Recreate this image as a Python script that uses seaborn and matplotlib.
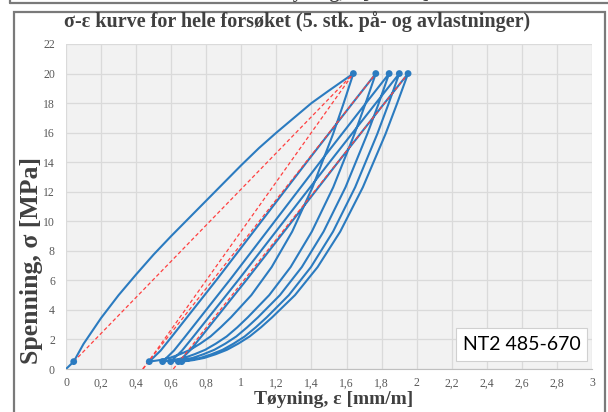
import matplotlib
matplotlib.use("Agg")
import numpy as np
import pandas as pd
import matplotlib.pyplot as plt
from matplotlib.patches import Rectangle
from matplotlib.lines import Line2D
import seaborn as sns

# Hele forsøket som en sammenhengende kurve: pålasting, avlastning, pålasting ...
toyning = [
    # første pålasting
    0, 0.044, 0.1, 0.2, 0.3, 0.4, 0.5, 0.6, 0.7, 0.8, 0.9, 1.0, 1.1, 1.2, 1.3, 1.4, 1.5, 1.639,
    # avlastning 1
    1.581, 1.523, 1.406, 1.290, 1.173, 1.057, 0.941, 0.882, 0.824, 0.766, 0.708, 0.650, 0.591, 0.533, 0.475,
    # pålasting 2
    0.540, 0.604, 0.863, 1.121, 1.379, 1.638, 1.767,
    # avlastning 2
    1.706, 1.645, 1.524, 1.402, 1.281, 1.159, 1.037, 0.977, 0.916, 0.855, 0.794, 0.733, 0.673, 0.612, 0.551,
    # pålasting 3
    0.616, 0.680, 0.939, 1.197, 1.455, 1.714, 1.843,
    # avlastning 3
    1.781, 1.718, 1.594, 1.469, 1.345, 1.220, 1.095, 1.033, 0.971, 0.909, 0.846, 0.784, 0.722, 0.659, 0.597,
    # pålasting 4
    0.662, 0.727, 0.988, 1.249, 1.510, 1.771, 1.901,
    # avlastning 4
    1.838, 1.775, 1.649, 1.523, 1.397, 1.271, 1.145, 1.082, 1.019, 0.956, 0.893, 0.830, 0.767, 0.704, 0.641,
    # pålasting 5
    0.707, 0.772, 1.034, 1.296, 1.558, 1.820, 1.951,
    # avlastning 5
    1.886, 1.822, 1.693, 1.564, 1.435, 1.306, 1.176, 1.112, 1.047, 0.983, 0.918, 0.854, 0.789, 0.725, 0.660,
]
spenning = [
    0, 0.5, 1.7, 3.45, 5.0, 6.4, 7.75, 9.0, 10.2, 11.4, 12.6, 13.8, 14.95, 16.0, 17.0, 18.0, 18.85, 20,
    17.9, 15.9, 12.3, 9.3, 6.9, 5.0, 3.5, 2.82, 2.2, 1.72, 1.3, 1.0, 0.75, 0.6, 0.5,
    1.25, 2.2, 6.1, 10.1, 14.1, 18.05, 20,
    17.9, 15.9, 12.3, 9.3, 6.9, 5.0, 3.5, 2.82, 2.2, 1.72, 1.3, 1.0, 0.75, 0.6, 0.5,
    1.25, 2.2, 6.1, 10.1, 14.1, 18.05, 20,
    17.9, 15.9, 12.3, 9.3, 6.9, 5.0, 3.5, 2.82, 2.2, 1.72, 1.3, 1.0, 0.75, 0.6, 0.5,
    1.25, 2.2, 6.1, 10.1, 14.1, 18.05, 20,
    17.9, 15.9, 12.3, 9.3, 6.9, 5.0, 3.5, 2.82, 2.2, 1.72, 1.3, 1.0, 0.75, 0.6, 0.5,
    1.25, 2.2, 6.1, 10.1, 14.1, 18.05, 20,
    17.9, 15.9, 12.3, 9.3, 6.9, 5.0, 3.5, 2.82, 2.2, 1.72, 1.3, 1.0, 0.75, 0.6, 0.5,
]

# markerte punkter (0,5 MPa og 20 MPa)
punkt_x = [0.044, 1.639, 1.767, 1.843, 1.901, 1.951, 0.475, 0.551, 0.597, 0.641, 0.660]
punkt_y = [0.5, 20, 20, 20, 20, 20, 0.5, 0.5, 0.5, 0.5, 0.5]

# sekantlinjer (rød stiplet)
sekant_nr = [1, 1, 2, 2, 3, 3, 4, 4]
sekant_x = [0.044, 1.639, 0.440, 1.639, 0.437, 1.767, 0.612, 1.951]
sekant_y = [0.5, 20, 0, 20, 0, 20, 0, 20]

x_ticks = [0, 0.2, 0.4, 0.6, 0.8, 1, 1.2, 1.4, 1.6, 1.8, 2, 2.2, 2.4, 2.6, 2.8, 3]
x_labels = ["0", "0,2", "0,4", "0,6", "0,8", "1", "1,2", "1,4", "1,6", "1,8",
            "2", "2,2", "2,4", "2,6", "2,8", "3"]
y_ticks = [0, 2, 4, 6, 8, 10, 12, 14, 16, 18, 20, 22]

blue = "#2b7bc0"
red = "#ff4040"
grey_txt = "#404040"

sns.set_style("whitegrid", {"axes.facecolor": "#f2f2f2", "grid.color": "#dadada",
                            "axes.edgecolor": "#c8c8c8"})
plt.rcParams["font.family"] = ["Liberation Serif", "DejaVu Serif"]

fig = plt.figure(figsize=(6.08, 4.12), dpi=100)
ax = fig.add_axes([66 / 608, 1 - 369 / 412, 526 / 608, 325 / 412])

df = pd.DataFrame({"toyning": toyning, "spenning": spenning})
sek = pd.DataFrame({"nr": sekant_nr, "toyning": sekant_x, "spenning": sekant_y})
pkt = pd.DataFrame({"toyning": punkt_x, "spenning": punkt_y})

sns.lineplot(data=sek, x="toyning", y="spenning", units="nr", estimator=None, sort=False,
             color=red, lw=0.9, linestyle=(0, (3, 2)), ax=ax, zorder=3)
sns.lineplot(data=df, x="toyning", y="spenning", estimator=None, sort=False,
             color=blue, lw=1.5, ax=ax, zorder=2)
sns.scatterplot(data=pkt, x="toyning", y="spenning", color=blue, s=24,
                edgecolor="none", ax=ax, zorder=4)

ax.set_xlim(0, 3)
ax.set_ylim(0, 22)
ax.set_xticks(x_ticks)
ax.set_xticklabels(x_labels)
ax.set_yticks(y_ticks)
ax.tick_params(length=0, labelsize=8.5, labelcolor="#595959")
ax.tick_params(axis="x", pad=6)
ax.tick_params(axis="y", pad=8)
ax.grid(True, lw=0.9)
for side in ["left", "top", "right"]:
    ax.spines[side].set_visible(False)
ax.spines["bottom"].set_color("#c0c0c0")

ax.set_xlabel("Tøyning, ε [mm/m]", fontsize=14, fontweight="bold", color=grey_txt)
ax.set_ylabel("Spenning, σ [MPa]", fontsize=18.5, fontweight="bold", color=grey_txt)
ax.xaxis.set_label_coords(0.508, -0.068)
ax.yaxis.set_label_coords(-0.043, 0.335)

fig.text(297 / 608, 1 - 22 / 412, "σ-ε kurve for hele forsøket (5. stk. på- og avlastninger)",
         ha="center", va="center", fontsize=14.5, fontweight="bold", color=grey_txt)

# tekstboks
ax.add_patch(Rectangle((0.741, 0.026), 0.25, 0.099, transform=ax.transAxes,
                       facecolor="white", edgecolor="#d0d0d0", lw=0.8, zorder=5))
ax.text(0.866, 0.075, "NT2 485-670", transform=ax.transAxes, ha="center", va="center",
        fontsize=14, family=["Lato", "DejaVu Sans"], color="black", zorder=6)

# ramme rundt diagrammet og rest av forrige figur øverst
fig.patches.append(Rectangle((14 / 608, -0.05), 591 / 608, 1.05 - 12 / 412,
                             transform=fig.transFigure, fill=False,
                             edgecolor="#7a7a7a", lw=1.6))
fig.lines.append(Line2D([10 / 608, 1], [1 - 3 / 412, 1 - 3 / 412], transform=fig.transFigure,
                        color="#7a7a7a", lw=1.6))
fig.lines.append(Line2D([10 / 608, 10 / 608], [1, 1 - 3 / 412], transform=fig.transFigure,
                        color="#7a7a7a", lw=1.6))
fig.text(350 / 608, 1 + 2 / 412, "Tøyning, ε [mm/m]", ha="center", va="baseline",
         fontsize=14, fontweight="bold", color=grey_txt)

fig.savefig("out.png", dpi=100)
